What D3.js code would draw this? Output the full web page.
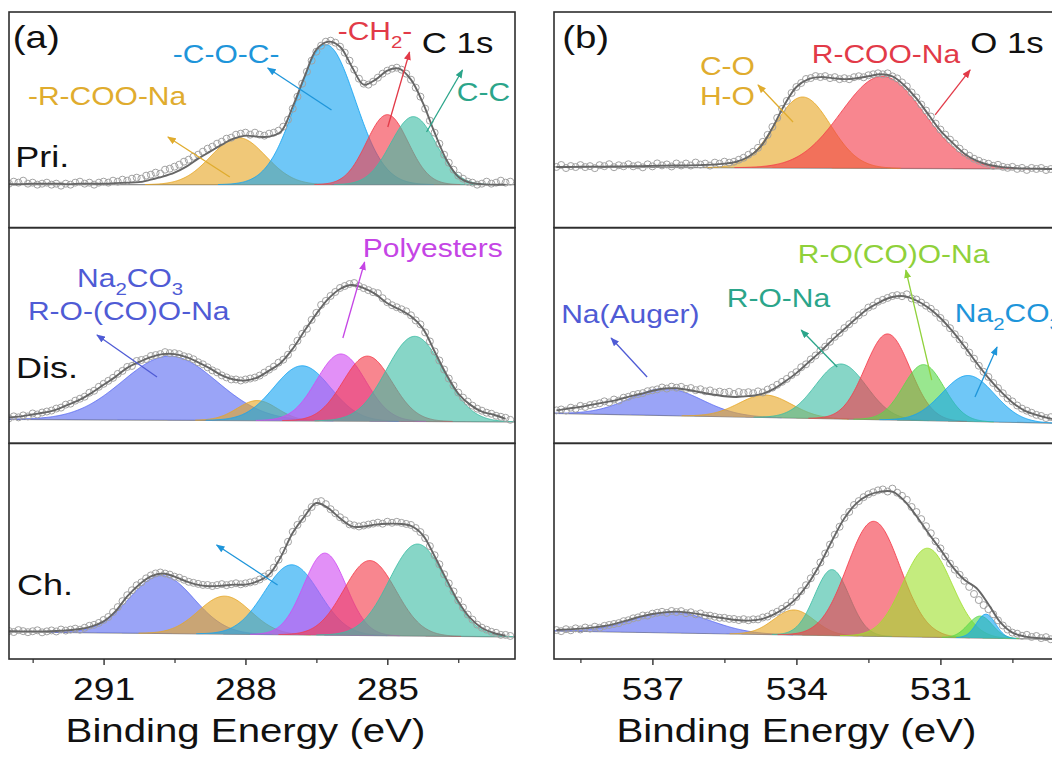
<!DOCTYPE html>
<html>
<head>
<meta charset="utf-8">
<script src="https://cdn.jsdelivr.net/npm/d3@7"></script>
<style>
  html, body { margin: 0; padding: 0; background: #fff; }
  svg { display: block; }
</style>
</head>
<body>
<svg id="chart" width="1052" height="760"></svg>
<script>
// ---------------------------------------------------------------------------
// XPS C 1s (a) and O 1s (b) spectra of the pristine, discharged and charged
// electrode, with their Gaussian peak fits.
// ---------------------------------------------------------------------------

// energy windows (eV, high -> low binding energy)
const c1sWindow = [293, 282.3];
const o1sWindow = [539.05, 528.5];

// tick values
const c1sTicks = [291, 288, 285];
const c1sMinor = [292.5, 289.5, 286.5, 283.5];
const o1sTicks = [537, 534, 531];
const o1sMinor = [538.5, 535.5, 532.5, 529.5];

const rowNames = ["Pri.", "Dis.", "Ch."];

// scan grids: raw data every 0.1 eV, fitted envelope tabulated every 0.25 eV
const rawStep = 0.1, fitStep = 0.25;
const c1sStart = 293.0, o1sStart = 539.0;

// linear background level (a.u.) at the high- and low-BE ends of the window
const c1sBackground = [[43, 43], [24, 21.5], [27, 22]];
const o1sBackground = [[60.7, 58.6], [30, 20], [28, 19.6]];

// raw counts above background (a.u.), C 1s, 293.0 -> 282.4 eV
const c1sPriRaw = [1,3,2,4,1,2,0,1,2,0, 1,-1,1,0,2,3,1,2,0,2, 3,2,4,3,5,4,6,7,6,9,
  10,12,11,15,16,18,20,23,25,28, 30,33,36,38,41,43,46,47,50,51, 52,50,52,50,49,51,52,54,58,65,
  76,88,101,113,124,133,139,143,144,142, 138,132,124,115,106,101,100,103,107,111,
  114,116,117,115,111,105,97,88,76,64, 52,41,30,22,15,9,6,3,2,0, 1,3,1,2,4,2,3];
const c1sDisRaw = [1,3,2,4,3,6,5,7,8,9, 11,12,15,16,19,21,23,27,29,33, 36,39,42,46,49,53,54,59,60,61,
  64,65,66,68,67,67,66,64,63,61, 58,56,53,50,48,45,43,41,41,40, 41,42,43,45,48,51,54,58,61,66,
  73,80,87,92,101,108,116,120,125,129, 133,135,137,138,135,133,131,129,128,123,
  119,116,114,112,110,106,101,97,89,80, 70,61,52,43,36,29,24,20,16,13, 11,9,8,6,5,4,2];
const c1sChRaw = [1,0,2,1,0,1,2,0,1,2, 1,3,2,3,4,3,5,7,8,10, 13,16,21,26,32,38,43,48,51,55,
  58,60,61,60,59,57,56,54,52,51, 50,49,49,48,49,50,49,50,51,50, 51,52,53,55,58,61,67,75,84,93,
  103,110,116,122,128,133,134,131,126,122, 118,115,111,110,109,110,111,112,113,112,
  114,113,114,113,112,111,108,104,98,90, 81,72,62,53,45,36,29,22,17,12, 9,7,5,4,2,2,1];

// fitted envelope above background, C 1s, 293.0 -> 282.5 eV
const c1sPriFit = [0.5,0.5,1,1,1,0.5,1,1,1,1.5, 2,2.5,5,8,12,18,26,33,40,46,
  49,48,48,53,78,108,135,143,138,118, 100,105,114,116,105,82,52,25,8,2, 0.5,0,0];
const c1sDisFit = [2,3,5,7,10,15,20,27,35,43, 52,58,63,66,66,63,58,52,45,41,
  40,43,50,58,72,90,107,122,132,136, 133,127,118,112,105,93,70,47,28,17, 10,7,3];
const c1sChFit = [0.7,0.8,0.9,1,1.5,2.3,3.7,6.5,11.6,21.7, 36.8,48.6,57,60,57,52.4,49,47.7,48.4,49.6,
  49.7,53,60,78,102,118.6,132,127,117,109, 109,111,112,112,110,101,80,57,35,18.6, 8.7,3.8,1.2];

// raw counts above background (a.u.), O 1s, 539.0 -> 528.6 eV
const o1sPriRaw = [0,2,-1,1,0,2,0,1,-1,2, 1,3,0,2,1,3,1,2,0,3, 1,4,2,3,1,4,2,4,2,5,
  3,4,2,5,4,6,5,6,8,10, 13,16,20,26,33,41,50,59,67,75, 81,85,89,90,92,91,92,90,91,89,
  90,89,91,92,91,93,94,95,94,95, 92,90,86,82,76,71,64,58,52,45, 39,34,29,25,20,16,13,10,8,6,
  5,3,4,2,1,2,0,1,-1,1, 0,1,-1,0,1];
const o1sDisRaw = [3,4,3,6,5,8,7,9,10,11, 13,12,15,14,17,18,20,21,22,24, 25,26,28,27,29,28,29,27,28,26,
  27,25,26,24,25,24,25,23,25,24, 25,24,26,25,28,30,33,36,39,43, 46,51,54,59,63,68,72,77,82,86,
  91,95,99,104,107,112,114,118,120,122, 124,125,124,126,122,121,118,115,112,108,
  103,98,93,87,82,76,69,63,56,50, 45,39,34,29,24,21,17,14,12,10, 8,7,5,6,4];
const o1sChRaw = [1,0,2,1,3,2,4,3,5,4, 6,7,8,9,11,12,14,15,17,17, 19,20,21,20,22,21,22,20,21,19,
  20,18,18,17,16,16,15,15,14,15, 14,15,15,17,18,21,23,26,29,33, 38,44,50,57,64,73,82,91,101,109,
  118,124,131,135,139,142,144,146,147,145, 148,144,141,137,130,125,118,111,104,96,
  89,81,74,68,63,57,51,44,38,33, 29,24,18,13,9,6,5,3,4,2, 3,1,2,0,1];

// fitted envelope above background, O 1s, 539.0 -> 528.5 eV
const o1sPriFit = [0,0,0.3,0.5,0.5,0.8,1,1.2,1.5,1.8, 2,2.2,2.5,3,4,6,11,21,40,63,
  81,89,91,90,89,90,92,94,92,83, 70,54,38,26,15,8,4,2,1,0.5, 0.3,0,0];
const o1sDisFit = [3,5,7,9.5,12,14.5,18,21,24.5,27, 27.5,26,24,22,20.5,20,21,23,28,36,
  45,56,67,79,90,101,111,118,123,124, 120,113,103,90,75,59,44,31,20,12, 8,5,3];
const o1sChFit = [1,1.9,2.8,4,5.8,8.7,12.2,15.8,18.6,20.5, 21.4,20.6,19.1,17,15.5,14,13.6,15,19.6,26.5,
  36.7,52,72,95.6,117.5,132.7,141,144.8,145,136, 121,104,88,71,58,50,34,16,6,2.5, 1,0.5,0];

// fitted components: [peak, centre (eV), height (a.u.), FWHM (eV)]
const c1sPriPeaks = [["p2",288.15,47,1.37], ["p3",286.30,140,1.46], ["p5",285.00,70,1.04], ["p6",284.45,68,1.13]];
const c1sDisPeaks = [["p1",289.60,64,2.35], ["p2",287.75,20,1.00], ["p3",286.80,55,1.41],
                     ["p4",285.98,67,1.22], ["p5",285.42,65,1.22], ["p6",284.42,85,1.41]];
const c1sChPeaks  = [["p1",289.77,58,1.60], ["p2",288.44,38,1.30], ["p3",287.02,70,1.37],
                     ["p4",286.32,82,1.06], ["p5",285.37,75,1.30], ["p6",284.36,92,1.41]];
const o1sPriPeaks = [["p2",533.87,71,1.37], ["p5",532.21,92,2.03]];
const o1sDisPeaks = [["p1",536.72,27,1.77], ["p2",534.65,22.5,1.30], ["p6",533.07,55,1.25],
                     ["p5",532.10,86,1.10], ["p8",531.35,56,1.00], ["p3",530.42,46,1.29]];
const o1sChPeaks  = [["p1",536.59,21,1.90], ["p2",534.05,25,1.00], ["p6",533.26,66,0.85],
                     ["p5",532.39,115,1.30], ["p7",531.27,89,1.20], ["p8",530.17,22,0.60], ["p3",530.05,24,0.47]];

// annotations: [row, peak, BE (eV), level (a.u.), text]   ("_n" = subscript)
const c1sNotes = [
  [0,"p3",289.535,164.7,"-C-O-C-"], [0,"p2",292.6,122.7,"-R-COO-Na"], [0,"p5",286.05,187.7,"-CH_2-"],
  [0,"p6",283.53,126.7,"C-C"], [1,"p1",291.56,156.3,"Na_2CO_3"], [1,"p1",292.6,123.3,"R-O-(CO)O-Na"],
  [1,"p4",285.52,186.3,"Polyesters"]
];
const o1sNotes = [
  [0,"p2",536.01,152.7,"C-O"], [0,"p2",536.01,122.7,"H-O"], [0,"p5",533.68,164.7,"R-COO-Na"],
  [1,"p1",538.9,120.3,"Na(Auger)"], [1,"p6",535.45,136.3,"R-O-Na"], [1,"p7",533.97,180.3,"R-O(CO)O-Na"],
  [1,"p3",530.7,121.3,"Na_2CO_3"]
];
// arrows: [row, peak, from [BE, level], to [BE, level]]
const c1sArrows = [
  [0,"p2",[288.33,50.7],[289.64,90.7]], [0,"p3",[286.18,117.7],[287.53,159.7]],
  [0,"p5",[284.99,100.7],[284.53,175.7]], [0,"p6",[284.17,95.7],[283.41,157.7]],
  [1,"p1",[289.87,66.3],[291.14,108.3]], [1,"p4",[285.94,105.3],[285.48,181.3]],
  [2,"p3",[287.32,74],[288.61,114]]
];
const o1sArrows = [
  [0,"p2",[534.07,105.7],[534.8,142.7]], [0,"p5",[531.11,112.7],[530.38,157.7]],
  [1,"p1",[537.11,66.3],[537.86,105.3]], [1,"p6",[533.15,76.3],[533.9,113.3]],
  [1,"p7",[531.18,63.3],[531.72,173.3]], [1,"p3",[530.28,46.3],[529.82,96.3]]
];

// ---------------------------------------------------------------------------
// styling and layout
// ---------------------------------------------------------------------------
const FONT = "'Liberation Sans', Arial, Helvetica, sans-serif";
const STRETCH = 1.2;
const fillColor = {p1:"#5C6CF2", p2:"#E6A725", p3:"#16A4F2", p4:"#D04CF2",
                   p5:"#F43C4A", p6:"#3DBDA5", p7:"#A0E02E", p8:"#5AD84A"};
const inkColor  = {p1:"#4F5BD5", p2:"#E0AC2E", p3:"#1E95DA", p4:"#C545E5",
                   p5:"#E23A48", p6:"#2BA58A", p7:"#8FD13A", p8:"#4FBF42"};
const rowTop = 12, rowH = 215.67;

const svg = d3.select("#chart");
const defs = svg.append("defs");

Object.entries(inkColor).forEach(([id, c]) => {
  defs.append("marker")
    .attr("id", "head-" + id)
    .attr("viewBox", "0 0 10 8").attr("refX", 9).attr("refY", 4)
    .attr("markerWidth", 9).attr("markerHeight", 7)
    .attr("markerUnits", "userSpaceOnUse").attr("orient", "auto")
    .append("path").attr("d", "M0,0L10,4L0,8Z").attr("fill", c);
});

const gauss = (E, c, h, w) => h * Math.exp(-4 * Math.LN2 * (E - c) * (E - c) / (w * w));
const grid = (start, step, n) => d3.range(n).map(i => +(start - i * step).toFixed(3));

// text with the plot's slightly wide lettering; "_n" marks a subscript
function label(g, x, y, str, size, color, anchor) {
  const t = g.append("text")
    .attr("transform", `translate(${x},${y}) scale(${STRETCH},1)`)
    .attr("font-family", FONT).attr("font-size", size)
    .attr("fill", color).attr("text-anchor", anchor || "start");
  let lowered = false;
  str.split(/_(\d)/).forEach((part, i) => {
    if (!part) return;
    const sub = i % 2 === 1;
    const ts = t.append("tspan").text(part);
    if (sub) {
      ts.attr("font-size", size * 0.68).attr("dy", size * 0.32);
      lowered = true;
    } else if (lowered) {
      ts.attr("dy", -size * 0.32);
      lowered = false;
    }
  });
  return t;
}

const panels = [
  { id: "c1s", win: c1sWindow, left: 9, right: 515, start: c1sStart,
    ticks: c1sTicks, minor: c1sMinor, titleAt: 288,
    raw: [c1sPriRaw, c1sDisRaw, c1sChRaw], fit: [c1sPriFit, c1sDisFit, c1sChFit],
    peaks: [c1sPriPeaks, c1sDisPeaks, c1sChPeaks], bg: c1sBackground,
    notes: c1sNotes, arrows: c1sArrows,
    tag: ["(a)", 292.92, 179.7], core: ["C 1s", 284.27, 174.7],
    rowLabels: [[292.87, 60.7], [292.85, 65.3], [292.83, 64]] },
  { id: "o1s", win: o1sWindow, left: 554, right: 1060.4, start: o1sStart,
    ticks: o1sTicks, minor: o1sMinor, titleAt: 534,
    raw: [o1sPriRaw, o1sDisRaw, o1sChRaw], fit: [o1sPriFit, o1sDisFit, o1sChFit],
    peaks: [o1sPriPeaks, o1sDisPeaks, o1sChPeaks], bg: o1sBackground,
    notes: o1sNotes, arrows: o1sArrows,
    tag: ["(b)", 538.88, 179.7], core: ["O 1s", 530.38, 174.7],
    rowLabels: null }
];

panels.forEach(p => {
  const x = d3.scaleLinear().domain(p.win).range([p.left, p.right]);
  const yRow = r => d3.scaleLinear().domain([0, rowH])
                      .range([rowTop + (r + 1) * rowH, rowTop + r * rowH]);
  const pg = svg.append("g").attr("class", "panel-" + p.id);
  const fine = d3.range(p.win[0], p.win[1] - 0.001, -0.02);

  rowNames.forEach((name, r) => {
    const y = yRow(r);
    const [b0, b1] = p.bg[r];
    const bg = E => b0 + (b1 - b0) * (E - p.win[0]) / (p.win[1] - p.win[0]);

    const clipId = `clip-${p.id}-${r}`;
    defs.append("clipPath").attr("id", clipId).append("rect")
      .attr("x", p.left).attr("y", rowTop + r * rowH)
      .attr("width", p.right - p.left).attr("height", rowH);
    const g = pg.append("g").attr("clip-path", `url(#${clipId})`);

    // background
    g.append("path")
      .attr("d", d3.line().x(E => x(E)).y(E => y(bg(E)))([p.win[0], p.win[1]]))
      .attr("stroke", "#8d8d8d").attr("stroke-width", 1.2).attr("fill", "none");

    // fitted components
    p.peaks[r].forEach(([pk, c, h, w]) => {
      const pts = fine.filter(E => gauss(E, c, h, w) > 0.15);
      g.append("path")
        .datum(pts)
        .attr("d", d3.area().x(E => x(E)).y0(E => y(bg(E))).y1(E => y(bg(E) + gauss(E, c, h, w))))
        .attr("fill", fillColor[pk]).attr("fill-opacity", 0.62);
      g.append("path")
        .datum(pts)
        .attr("d", d3.line().x(E => x(E)).y(E => y(bg(E) + gauss(E, c, h, w))))
        .attr("fill", "none").attr("stroke", fillColor[pk])
        .attr("stroke-opacity", 0.85).attr("stroke-width", 1);
    });

    // raw data
    const rawE = grid(p.start, rawStep, p.raw[r].length);
    g.append("g").selectAll("circle")
      .data(p.raw[r])
      .join("circle")
      .attr("cx", (v, i) => x(rawE[i]))
      .attr("cy", (v, i) => y(bg(rawE[i]) + v))
      .attr("r", 3.5)
      .attr("fill", "none").attr("stroke", "#a2a2a2").attr("stroke-width", 1);

    // fitted envelope
    const fitE = grid(p.start, fitStep, p.fit[r].length);
    g.append("path")
      .datum(p.fit[r])
      .attr("d", d3.line().curve(d3.curveCatmullRom.alpha(0.5))
        .x((v, i) => x(fitE[i])).y((v, i) => y(bg(fitE[i]) + v)))
      .attr("fill", "none").attr("stroke", "#666").attr("stroke-width", 1.9);

    // row frame
    pg.append("rect")
      .attr("x", p.left).attr("y", rowTop + r * rowH)
      .attr("width", p.right - p.left).attr("height", rowH)
      .attr("fill", "none").attr("stroke", "#2e2e2e").attr("stroke-width", 1.6);

    if (p.rowLabels) {
      const [E, v] = p.rowLabels[r];
      label(pg, x(E), y(v), name, 30, "#111");
    }
  });

  // annotations
  p.notes.forEach(([r, pk, E, v, txt]) => {
    label(pg, x(E), yRow(r)(v), txt, 25, inkColor[pk]);
  });
  p.arrows.forEach(([r, pk, from, to]) => {
    const y = yRow(r);
    pg.append("line")
      .attr("x1", x(from[0])).attr("y1", y(from[1]))
      .attr("x2", x(to[0])).attr("y2", y(to[1]))
      .attr("stroke", inkColor[pk]).attr("stroke-width", 1.3)
      .attr("marker-end", `url(#head-${pk})`);
  });
  label(pg, x(p.tag[1]), yRow(0)(p.tag[2]), p.tag[0], 32, "#111");
  label(pg, x(p.core[1]), yRow(0)(p.core[2]), p.core[0], 29, "#111");

  // bottom axis
  const axisY = rowTop + 3 * rowH;
  const ax = pg.append("g").attr("transform", `translate(0,${axisY})`)
    .call(d3.axisBottom(x).tickValues(p.ticks).tickSize(6).tickSizeOuter(0).tickFormat(d3.format("d")));
  ax.select(".domain").remove();
  ax.selectAll(".tick line").attr("stroke", "#2e2e2e").attr("stroke-width", 1.4);
  ax.selectAll(".tick text")
    .attr("y", 41).attr("dy", 0)
    .attr("transform", `scale(${STRETCH},1)`)
    .attr("font-family", FONT).attr("font-size", 31).attr("fill", "#111");
  const mx = pg.append("g").attr("transform", `translate(0,${axisY})`)
    .call(d3.axisBottom(x).tickValues(p.minor).tickSize(4).tickSizeOuter(0).tickFormat(""));
  mx.select(".domain").remove();
  mx.selectAll(".tick line").attr("stroke", "#2e2e2e").attr("stroke-width", 1.2);

  label(pg, x(p.titleAt), axisY + 83, "Binding Energy (eV)", 33.5, "#111", "middle");
});
</script>
</body>
</html>
